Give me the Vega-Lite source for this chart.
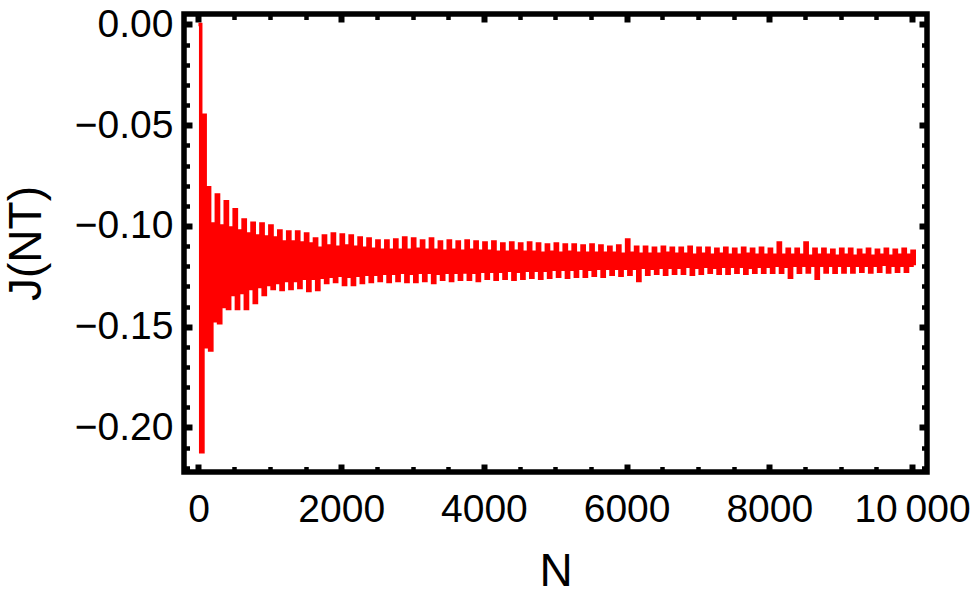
{
  "$schema": "https://vega.github.io/schema/vega-lite/v6.json",
  "width": 743,
  "height": 458,
  "autosize": {"type": "none"},
  "padding": {"left": 184, "top": 14, "right": 48, "bottom": 131},
  "background": "white",
  "config": {"view": {"stroke": "black", "strokeWidth": 5.5}, "font": "Liberation Sans"},
  "data": {"values": [
    {"N":0,"J":0},{"N":31.25,"J":-0.212},{"N":62.5,"J":-0.045},{"N":93.75,"J":-0.16},
    {"N":125,"J":-0.081},{"N":156.25,"J":-0.1615},{"N":187.5,"J":-0.099},{"N":218.75,"J":-0.147},
    {"N":250,"J":-0.0846},{"N":281.25,"J":-0.148},{"N":312.5,"J":-0.1},{"N":343.75,"J":-0.14},
    {"N":375,"J":-0.088},{"N":406.25,"J":-0.141},{"N":437.5,"J":-0.101},{"N":468.75,"J":-0.134},
    {"N":500,"J":-0.092},{"N":531.25,"J":-0.141},{"N":562.5,"J":-0.1025},{"N":593.75,"J":-0.133},
    {"N":625,"J":-0.097},{"N":656.25,"J":-0.141},{"N":687.5,"J":-0.104},{"N":718.75,"J":-0.131},
    {"N":750,"J":-0.0986},{"N":781.25,"J":-0.138},{"N":812.5,"J":-0.105},{"N":843.75,"J":-0.13},
    {"N":875,"J":-0.099},{"N":906.25,"J":-0.134},{"N":937.5,"J":-0.1055},{"N":968.75,"J":-0.129},
    {"N":1000,"J":-0.1},{"N":1031.25,"J":-0.131},{"N":1062.5,"J":-0.106},{"N":1093.75,"J":-0.128},
    {"N":1125,"J":-0.1025},{"N":1156.25,"J":-0.1315},{"N":1187.5,"J":-0.108},{"N":1218.75,"J":-0.127},
    {"N":1250,"J":-0.103},{"N":1281.25,"J":-0.131},{"N":1312.5,"J":-0.108},{"N":1343.75,"J":-0.127},
    {"N":1375,"J":-0.103},{"N":1406.25,"J":-0.1305},{"N":1437.5,"J":-0.1085},{"N":1468.75,"J":-0.126},
    {"N":1500,"J":-0.104},{"N":1531.25,"J":-0.132},{"N":1562.5,"J":-0.109},{"N":1593.75,"J":-0.126},
    {"N":1625,"J":-0.1065},{"N":1656.25,"J":-0.1315},{"N":1687.5,"J":-0.111},{"N":1718.75,"J":-0.1255},
    {"N":1750,"J":-0.105},{"N":1781.25,"J":-0.128},{"N":1812.5,"J":-0.11},{"N":1843.75,"J":-0.125},
    {"N":1875,"J":-0.104},{"N":1906.25,"J":-0.1275},{"N":1937.5,"J":-0.1105},{"N":1968.75,"J":-0.1245},
    {"N":2000,"J":-0.1045},{"N":2031.25,"J":-0.129},{"N":2062.5,"J":-0.11},{"N":2093.75,"J":-0.125},
    {"N":2125,"J":-0.105},{"N":2156.25,"J":-0.129},{"N":2187.5,"J":-0.1105},{"N":2218.75,"J":-0.1245},
    {"N":2250,"J":-0.106},{"N":2281.25,"J":-0.128},{"N":2312.5,"J":-0.111},{"N":2343.75,"J":-0.124},
    {"N":2375,"J":-0.1065},{"N":2406.25,"J":-0.1275},{"N":2437.5,"J":-0.1115},{"N":2468.75,"J":-0.124},
    {"N":2500,"J":-0.1075},{"N":2531.25,"J":-0.127},{"N":2562.5,"J":-0.112},{"N":2593.75,"J":-0.1235},
    {"N":2625,"J":-0.1075},{"N":2656.25,"J":-0.1275},{"N":2687.5,"J":-0.112},{"N":2718.75,"J":-0.1235},
    {"N":2750,"J":-0.107},{"N":2781.25,"J":-0.127},{"N":2812.5,"J":-0.112},{"N":2843.75,"J":-0.123},
    {"N":2875,"J":-0.106},{"N":2906.25,"J":-0.1275},{"N":2937.5,"J":-0.112},{"N":2968.75,"J":-0.1235},
    {"N":3000,"J":-0.1065},{"N":3031.25,"J":-0.1275},{"N":3062.5,"J":-0.1115},{"N":3093.75,"J":-0.123},
    {"N":3125,"J":-0.1075},{"N":3156.25,"J":-0.127},{"N":3187.5,"J":-0.112},{"N":3218.75,"J":-0.123},
    {"N":3250,"J":-0.1065},{"N":3281.25,"J":-0.128},{"N":3312.5,"J":-0.112},{"N":3343.75,"J":-0.1235},
    {"N":3375,"J":-0.108},{"N":3406.25,"J":-0.1265},{"N":3437.5,"J":-0.1125},{"N":3468.75,"J":-0.123},
    {"N":3500,"J":-0.1075},{"N":3531.25,"J":-0.127},{"N":3562.5,"J":-0.112},{"N":3593.75,"J":-0.123},
    {"N":3625,"J":-0.108},{"N":3656.25,"J":-0.1265},{"N":3687.5,"J":-0.1125},{"N":3718.75,"J":-0.1228},
    {"N":3750,"J":-0.1075},{"N":3781.25,"J":-0.1265},{"N":3812.5,"J":-0.112},{"N":3843.75,"J":-0.123},
    {"N":3875,"J":-0.108},{"N":3906.25,"J":-0.127},{"N":3937.5,"J":-0.1125},{"N":3968.75,"J":-0.1225},
    {"N":4000,"J":-0.1085},{"N":4031.25,"J":-0.126},{"N":4062.5,"J":-0.1125},{"N":4093.75,"J":-0.1225},
    {"N":4125,"J":-0.108},{"N":4156.25,"J":-0.1265},{"N":4187.5,"J":-0.113},{"N":4218.75,"J":-0.1225},
    {"N":4250,"J":-0.109},{"N":4281.25,"J":-0.126},{"N":4312.5,"J":-0.113},{"N":4343.75,"J":-0.122},
    {"N":4375,"J":-0.1085},{"N":4406.25,"J":-0.1265},{"N":4437.5,"J":-0.1125},{"N":4468.75,"J":-0.1225},
    {"N":4500,"J":-0.109},{"N":4531.25,"J":-0.126},{"N":4562.5,"J":-0.113},{"N":4593.75,"J":-0.122},
    {"N":4625,"J":-0.1085},{"N":4656.25,"J":-0.1255},{"N":4687.5,"J":-0.113},{"N":4718.75,"J":-0.122},
    {"N":4750,"J":-0.109},{"N":4781.25,"J":-0.126},{"N":4812.5,"J":-0.1135},{"N":4843.75,"J":-0.122},
    {"N":4875,"J":-0.1095},{"N":4906.25,"J":-0.1255},{"N":4937.5,"J":-0.113},{"N":4968.75,"J":-0.1215},
    {"N":5000,"J":-0.109},{"N":5031.25,"J":-0.125},{"N":5062.5,"J":-0.1135},{"N":5093.75,"J":-0.1215},
    {"N":5125,"J":-0.1095},{"N":5156.25,"J":-0.1255},{"N":5187.5,"J":-0.113},{"N":5218.75,"J":-0.1215},
    {"N":5250,"J":-0.1095},{"N":5281.25,"J":-0.125},{"N":5312.5,"J":-0.1135},{"N":5343.75,"J":-0.121},
    {"N":5375,"J":-0.11},{"N":5406.25,"J":-0.125},{"N":5437.5,"J":-0.1135},{"N":5468.75,"J":-0.1215},
    {"N":5500,"J":-0.1095},{"N":5531.25,"J":-0.1245},{"N":5562.5,"J":-0.1135},{"N":5593.75,"J":-0.121},
    {"N":5625,"J":-0.11},{"N":5656.25,"J":-0.125},{"N":5687.5,"J":-0.1135},{"N":5718.75,"J":-0.121},
    {"N":5750,"J":-0.1105},{"N":5781.25,"J":-0.124},{"N":5812.5,"J":-0.1135},{"N":5843.75,"J":-0.121},
    {"N":5875,"J":-0.11},{"N":5906.25,"J":-0.1245},{"N":5937.5,"J":-0.114},{"N":5968.75,"J":-0.121},
    {"N":6000,"J":-0.107},{"N":6031.25,"J":-0.124},{"N":6062.5,"J":-0.1135},{"N":6093.75,"J":-0.121},
    {"N":6125,"J":-0.1105},{"N":6156.25,"J":-0.127},{"N":6187.5,"J":-0.114},{"N":6218.75,"J":-0.1205},
    {"N":6250,"J":-0.1105},{"N":6281.25,"J":-0.124},{"N":6312.5,"J":-0.114},{"N":6343.75,"J":-0.121},
    {"N":6375,"J":-0.111},{"N":6406.25,"J":-0.1235},{"N":6437.5,"J":-0.114},{"N":6468.75,"J":-0.1205},
    {"N":6500,"J":-0.1105},{"N":6531.25,"J":-0.124},{"N":6562.5,"J":-0.1135},{"N":6593.75,"J":-0.1205},
    {"N":6625,"J":-0.111},{"N":6656.25,"J":-0.1235},{"N":6687.5,"J":-0.114},{"N":6718.75,"J":-0.1205},
    {"N":6750,"J":-0.111},{"N":6781.25,"J":-0.1235},{"N":6812.5,"J":-0.114},{"N":6843.75,"J":-0.12},
    {"N":6875,"J":-0.1105},{"N":6906.25,"J":-0.124},{"N":6937.5,"J":-0.1145},{"N":6968.75,"J":-0.1205},
    {"N":7000,"J":-0.111},{"N":7031.25,"J":-0.1235},{"N":7062.5,"J":-0.114},{"N":7093.75,"J":-0.12},
    {"N":7125,"J":-0.111},{"N":7156.25,"J":-0.123},{"N":7187.5,"J":-0.1145},{"N":7218.75,"J":-0.1205},
    {"N":7250,"J":-0.1115},{"N":7281.25,"J":-0.1235},{"N":7312.5,"J":-0.114},{"N":7343.75,"J":-0.12},
    {"N":7375,"J":-0.111},{"N":7406.25,"J":-0.1235},{"N":7437.5,"J":-0.1145},{"N":7468.75,"J":-0.12},
    {"N":7500,"J":-0.1115},{"N":7531.25,"J":-0.123},{"N":7562.5,"J":-0.1145},{"N":7593.75,"J":-0.12},
    {"N":7625,"J":-0.111},{"N":7656.25,"J":-0.1235},{"N":7687.5,"J":-0.114},{"N":7718.75,"J":-0.1205},
    {"N":7750,"J":-0.1115},{"N":7781.25,"J":-0.123},{"N":7812.5,"J":-0.1145},{"N":7843.75,"J":-0.12},
    {"N":7875,"J":-0.111},{"N":7906.25,"J":-0.123},{"N":7937.5,"J":-0.1145},{"N":7968.75,"J":-0.12},
    {"N":8000,"J":-0.1115},{"N":8031.25,"J":-0.123},{"N":8062.5,"J":-0.1145},{"N":8093.75,"J":-0.1195},
    {"N":8125,"J":-0.1085},{"N":8156.25,"J":-0.123},{"N":8187.5,"J":-0.1145},{"N":8218.75,"J":-0.12},
    {"N":8250,"J":-0.1115},{"N":8281.25,"J":-0.1255},{"N":8312.5,"J":-0.1145},{"N":8343.75,"J":-0.1195},
    {"N":8375,"J":-0.1115},{"N":8406.25,"J":-0.123},{"N":8437.5,"J":-0.1145},{"N":8468.75,"J":-0.1195},
    {"N":8500,"J":-0.1085},{"N":8531.25,"J":-0.1228},{"N":8562.5,"J":-0.115},{"N":8593.75,"J":-0.1195},
    {"N":8625,"J":-0.1115},{"N":8656.25,"J":-0.126},{"N":8687.5,"J":-0.1145},{"N":8718.75,"J":-0.1195},
    {"N":8750,"J":-0.1115},{"N":8781.25,"J":-0.1228},{"N":8812.5,"J":-0.1145},{"N":8843.75,"J":-0.1195},
    {"N":8875,"J":-0.112},{"N":8906.25,"J":-0.123},{"N":8937.5,"J":-0.115},{"N":8968.75,"J":-0.1195},
    {"N":9000,"J":-0.1115},{"N":9031.25,"J":-0.1228},{"N":9062.5,"J":-0.1145},{"N":9093.75,"J":-0.1195},
    {"N":9125,"J":-0.1115},{"N":9156.25,"J":-0.1228},{"N":9187.5,"J":-0.115},{"N":9218.75,"J":-0.1195},
    {"N":9250,"J":-0.112},{"N":9281.25,"J":-0.1225},{"N":9312.5,"J":-0.1145},{"N":9343.75,"J":-0.1195},
    {"N":9375,"J":-0.1115},{"N":9406.25,"J":-0.1228},{"N":9437.5,"J":-0.115},{"N":9468.75,"J":-0.1195},
    {"N":9500,"J":-0.112},{"N":9531.25,"J":-0.1225},{"N":9562.5,"J":-0.1145},{"N":9593.75,"J":-0.119},
    {"N":9625,"J":-0.1115},{"N":9656.25,"J":-0.1228},{"N":9687.5,"J":-0.115},{"N":9718.75,"J":-0.1195},
    {"N":9750,"J":-0.112},{"N":9781.25,"J":-0.1225},{"N":9812.5,"J":-0.1145},{"N":9843.75,"J":-0.1195},
    {"N":9875,"J":-0.1115},{"N":9906.25,"J":-0.1225},{"N":9937.5,"J":-0.1145},{"N":9968.75,"J":-0.1195},
    {"N":10000,"J":-0.1125},{"N":10031.25,"J":-0.1195}
  ]},
  "layer": [
    {
      "mark": {"type": "line", "color": "#ff0000", "strokeWidth": 3.5, "interpolate": "step-after"},
      "encoding": {
        "x": {
          "field": "N", "type": "quantitative",
          "scale": {"domain": [-203, 10210], "nice": false, "zero": false},
          "axis": {
            "orient": "bottom",
            "values": [0,500,1000,1500,2000,2500,3000,3500,4000,4500,5000,5500,6000,6500,7000,7500,8000,8500,9000,9500,10000],
            "domain": false, "grid": false, "ticks": true, "tickColor": "black",
            "tickSize": {"condition": {"test": "datum.value % 2000 === 0", "value": -8}, "value": -5.5},
            "tickWidth": {"condition": {"test": "datum.value % 2000 === 0", "value": 6}, "value": 4.5},
            "format": "d",
            "labelExpr": "datum.value % 2000 === 0 ? (datum.value === 10000 ? '10\u2009000' : datum.label) : ''",
            "labelFont": "Liberation Sans", "labelFontSize": 39, "labelColor": "black",
            "labelPadding": 26, "labelFlush": false, "labelOverlap": false, "labelBound": false,
            "title": "N", "titleFont": "Liberation Sans", "titleFontSize": 46, "titleFontWeight": "normal",
            "titleColor": "black", "titlePadding": 18
          }
        },
        "y": {
          "field": "J", "type": "quantitative",
          "scale": {"domain": [-0.2221, 0.0052], "nice": false, "zero": false},
          "axis": {
            "orient": "left",
            "values": [0,-0.01,-0.02,-0.03,-0.04,-0.05,-0.06,-0.07,-0.08,-0.09,-0.1,-0.11,-0.12,-0.13,-0.14,-0.15,-0.16,-0.17,-0.18,-0.19,-0.2,-0.21,-0.22],
            "domain": false, "grid": false, "ticks": true, "tickColor": "black",
            "tickSize": {"condition": {"test": "abs(round(datum.value*100)) % 5 === 0", "value": -8}, "value": -5.5},
            "tickWidth": {"condition": {"test": "abs(round(datum.value*100)) % 5 === 0", "value": 6}, "value": 4.5},
            "format": ".2f",
            "labelExpr": "abs(round(datum.value*100)) % 5 === 0 ? datum.label : ''",
            "labelFont": "Liberation Sans", "labelFontSize": 39, "labelColor": "black",
            "labelPadding": 19, "labelFlush": false, "labelOverlap": false, "labelBound": false,
            "title": "J(NT)", "titleFont": "Liberation Sans", "titleFontSize": 46, "titleFontWeight": "normal",
            "titleColor": "black", "titleX": -158, "titleY": 229, "titleBaseline": "middle", "titleAngle": -90, "titleAlign": "center"
          }
        }
      }
    },
    {
      "mark": {"type": "line", "opacity": 0, "strokeOpacity": 0},
      "encoding": {
        "x": {
          "field": "N", "type": "quantitative",
          "scale": {"domain": [-203, 10210], "nice": false, "zero": false},
          "axis": {
            "orient": "top",
            "values": [0,500,1000,1500,2000,2500,3000,3500,4000,4500,5000,5500,6000,6500,7000,7500,8000,8500,9000,9500,10000],
            "domain": false, "grid": false, "ticks": true, "tickColor": "black", "labels": false, "title": null,
            "tickSize": {"condition": {"test": "datum.value % 2000 === 0", "value": -8}, "value": -5.5},
            "tickWidth": {"condition": {"test": "datum.value % 2000 === 0", "value": 6}, "value": 4.5}
          }
        },
        "y": {
          "field": "J", "type": "quantitative",
          "scale": {"domain": [-0.2221, 0.0052], "nice": false, "zero": false},
          "axis": {
            "orient": "right",
            "values": [0,-0.01,-0.02,-0.03,-0.04,-0.05,-0.06,-0.07,-0.08,-0.09,-0.1,-0.11,-0.12,-0.13,-0.14,-0.15,-0.16,-0.17,-0.18,-0.19,-0.2,-0.21,-0.22],
            "domain": false, "grid": false, "ticks": true, "tickColor": "black", "labels": false, "title": null,
            "tickSize": {"condition": {"test": "abs(round(datum.value*100)) % 5 === 0", "value": -8}, "value": -5.5},
            "tickWidth": {"condition": {"test": "abs(round(datum.value*100)) % 5 === 0", "value": 6}, "value": 4.5}
          }
        }
      }
    }
  ],
  "resolve": {"axis": {"x": "independent", "y": "independent"}}
}
